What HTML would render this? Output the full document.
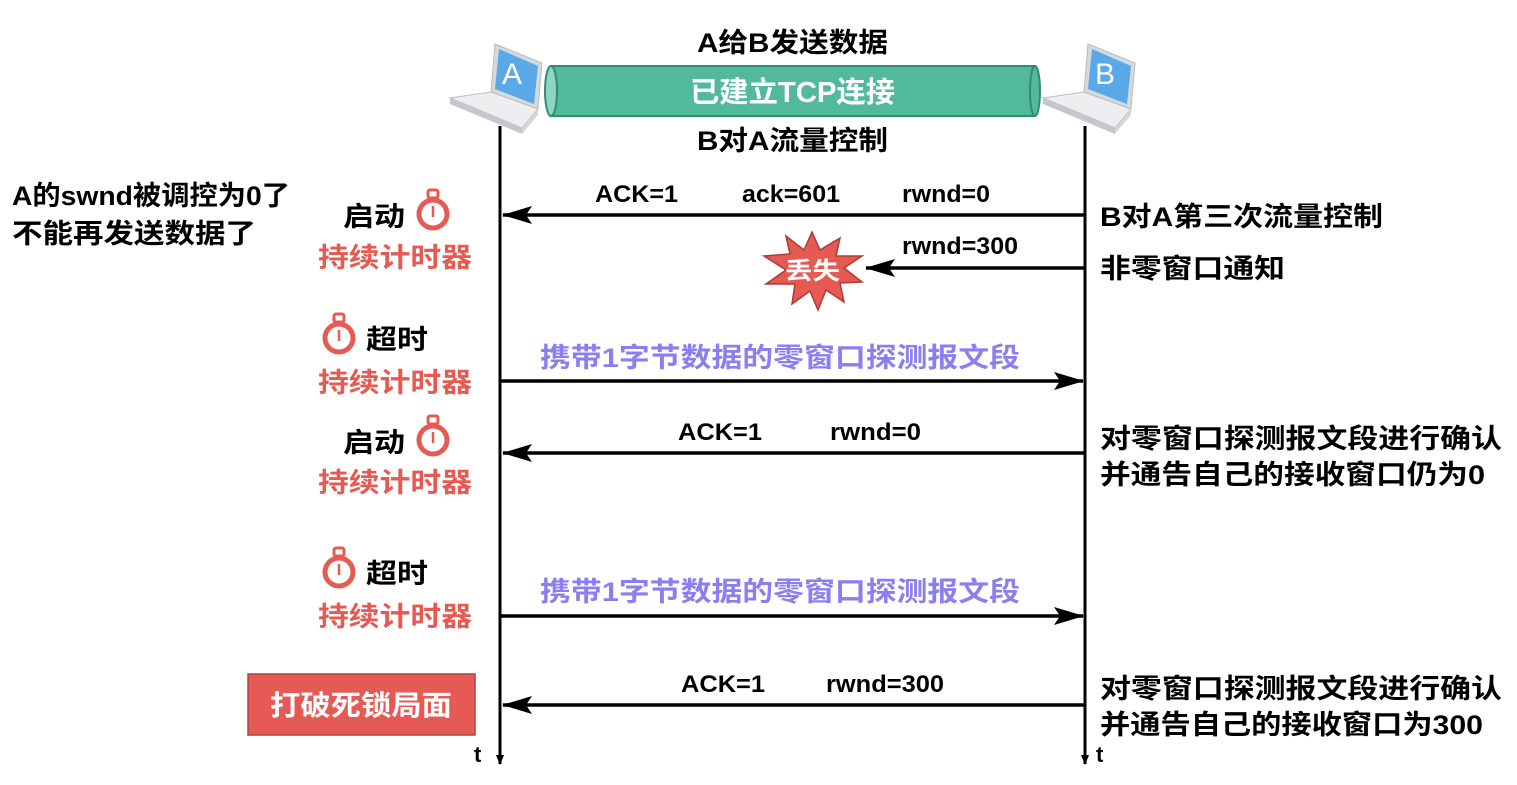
<!DOCTYPE html>
<html><head><meta charset="utf-8"><style>
html,body{margin:0;padding:0;background:#fff;}
svg text{font-family:"Liberation Sans","Noto Sans CJK SC",sans-serif;font-weight:bold;}
</style></head><body>
<svg width="1517" height="780" viewBox="0 0 1517 780" xmlns="http://www.w3.org/2000/svg">
<defs>
<marker id="ah" markerWidth="10" markerHeight="8" refX="9" refY="4" orient="auto" markerUnits="userSpaceOnUse"><path d="M0,0 L10,4 L0,8 Z" fill="#000"/></marker>
<marker id="ab" markerWidth="30" markerHeight="18" refX="29" refY="9" orient="auto" markerUnits="userSpaceOnUse"><path d="M0,0 L30,9 L0,18 L6,9 Z" fill="#000"/></marker>
<g id="sw"><rect x="-5" y="-24" width="10" height="8" rx="2" fill="none" stroke="#e55a52" stroke-width="3"/><circle cx="0" cy="0" r="14" fill="#fff" stroke="#e55a52" stroke-width="5"/><line x1="0" y1="-8" x2="0" y2="3" stroke="#e55a52" stroke-width="2.5"/></g>
<g id="lap">
<polygon points="45,8 92,27 88,73 41,56" fill="#d6d9dc" stroke="#b8bcc0" stroke-width="1"/>
<polygon points="49,13 88,30 84,68 45,53" fill="#5aa8e8"/>
<polygon points="41,56 88,73 72,92 0,62" fill="#eceef0" stroke="#b8bcc0" stroke-width="1"/>
<polygon points="0,62 72,92 72,98 0,68" fill="#c4c8cc"/>
<polygon points="72,92 88,73 88,79 72,98" fill="#d4d6d8"/>
</g>
</defs>

<use href="#lap" x="450" y="36"/>
<text x="512" y="84" font-size="30" fill="#fff" text-anchor="middle" style="font-weight:normal">A</text>
<use href="#lap" x="1043" y="36"/>
<text x="1105" y="84" font-size="30" fill="#fff" text-anchor="middle" style="font-weight:normal">B</text>

<rect x="551" y="66" width="484" height="50" fill="#52b99a" stroke="#2f8c70" stroke-width="2"/>
<ellipse cx="1035" cy="91" rx="5" ry="25" fill="#52b99a" stroke="#2f8c70" stroke-width="2"/>
<ellipse cx="551" cy="91" rx="6" ry="25" fill="#8ed6c0" stroke="#2f8c70" stroke-width="2"/>
<text x="690" y="102" font-size="29" fill="#fff" textLength="205" lengthAdjust="spacingAndGlyphs">已建立TCP连接</text>
<text x="697" y="52" font-size="27" textLength="191" lengthAdjust="spacingAndGlyphs">A给B发送数据</text>
<text x="697" y="150" font-size="27" textLength="191" lengthAdjust="spacingAndGlyphs">B对A流量控制</text>

<line x1="500" y1="126" x2="500" y2="764" stroke="#000" stroke-width="3" marker-end="url(#ah)"/>
<line x1="1085" y1="126" x2="1085" y2="764" stroke="#000" stroke-width="3" marker-end="url(#ah)"/>
<text x="474" y="762" font-size="22">t</text>
<text x="1096" y="762" font-size="22">t</text>

<line x1="1085" y1="215" x2="503" y2="215" stroke="#000" stroke-width="3.5" marker-end="url(#ab)"/>
<line x1="1085" y1="268" x2="866" y2="268" stroke="#000" stroke-width="3.5" marker-end="url(#ab)"/>
<line x1="500" y1="381" x2="1083" y2="381" stroke="#000" stroke-width="3.5" marker-end="url(#ab)"/>
<line x1="1085" y1="453" x2="503" y2="453" stroke="#000" stroke-width="3.5" marker-end="url(#ab)"/>
<line x1="500" y1="616" x2="1083" y2="616" stroke="#000" stroke-width="3.5" marker-end="url(#ab)"/>
<line x1="1085" y1="705" x2="503" y2="705" stroke="#000" stroke-width="3.5" marker-end="url(#ab)"/>

<polygon points="812,232 820,250 840,238 836,256 862,256 844,268 862,282 840,283 844,302 826,290 818,310 810,291 792,304 795,284 766,284 786,270 764,256 790,254 786,236 804,250" fill="#e55a52" stroke="#b03a34" stroke-width="1.5"/>
<text x="785" y="279" font-size="24" fill="#fff" textLength="55" lengthAdjust="spacingAndGlyphs">丢失</text>

<g font-size="24">
<text x="595" y="202" textLength="83" lengthAdjust="spacingAndGlyphs">ACK=1</text>
<text x="742" y="202" textLength="98" lengthAdjust="spacingAndGlyphs">ack=601</text>
<text x="902" y="202" textLength="88" lengthAdjust="spacingAndGlyphs">rwnd=0</text>
<text x="902" y="254" textLength="116" lengthAdjust="spacingAndGlyphs">rwnd=300</text>
<text x="678" y="440" textLength="84" lengthAdjust="spacingAndGlyphs">ACK=1</text>
<text x="830" y="440" textLength="91" lengthAdjust="spacingAndGlyphs">rwnd=0</text>
<text x="681" y="692" textLength="84" lengthAdjust="spacingAndGlyphs">ACK=1</text>
<text x="826" y="692" textLength="118" lengthAdjust="spacingAndGlyphs">rwnd=300</text>
</g>
<text x="540" y="367" font-size="27" fill="#8a7ff0" textLength="480" lengthAdjust="spacingAndGlyphs">携带1字节数据的零窗口探测报文段</text>
<text x="540" y="601" font-size="27" fill="#8a7ff0" textLength="480" lengthAdjust="spacingAndGlyphs">携带1字节数据的零窗口探测报文段</text>

<g font-size="27">
<text x="1100" y="226" textLength="283" lengthAdjust="spacingAndGlyphs">B对A第三次流量控制</text>
<text x="1100" y="278" textLength="185" lengthAdjust="spacingAndGlyphs">非零窗口通知</text>
<text x="1100" y="448" textLength="402" lengthAdjust="spacingAndGlyphs">对零窗口探测报文段进行确认</text>
<text x="1100" y="484" textLength="385" lengthAdjust="spacingAndGlyphs">并通告自己的接收窗口仍为0</text>
<text x="1100" y="698" textLength="402" lengthAdjust="spacingAndGlyphs">对零窗口探测报文段进行确认</text>
<text x="1100" y="734" textLength="383" lengthAdjust="spacingAndGlyphs">并通告自己的接收窗口为300</text>

<text x="12" y="205" textLength="278" lengthAdjust="spacingAndGlyphs">A的swnd被调控为0了</text>
<text x="12" y="243" textLength="244" lengthAdjust="spacingAndGlyphs">不能再发送数据了</text>

<text x="343" y="226" textLength="62" lengthAdjust="spacingAndGlyphs">启动</text>
<text x="318" y="267" fill="#e55a52" textLength="154" lengthAdjust="spacingAndGlyphs">持续计时器</text>
<text x="366" y="349" textLength="62" lengthAdjust="spacingAndGlyphs">超时</text>
<text x="318" y="392" fill="#e55a52" textLength="154" lengthAdjust="spacingAndGlyphs">持续计时器</text>
<text x="343" y="452" textLength="62" lengthAdjust="spacingAndGlyphs">启动</text>
<text x="318" y="492" fill="#e55a52" textLength="154" lengthAdjust="spacingAndGlyphs">持续计时器</text>
<text x="366" y="583" textLength="62" lengthAdjust="spacingAndGlyphs">超时</text>
<text x="318" y="626" fill="#e55a52" textLength="154" lengthAdjust="spacingAndGlyphs">持续计时器</text>
</g>
<use href="#sw" x="433" y="214"/>
<use href="#sw" x="339" y="338"/>
<use href="#sw" x="433" y="440"/>
<use href="#sw" x="339" y="572"/>

<rect x="248" y="674" width="227" height="61" fill="#e55a55" stroke="#b04440" stroke-width="1.5"/>
<text x="270" y="715" font-size="28" fill="#fff" textLength="182" lengthAdjust="spacingAndGlyphs">打破死锁局面</text>
</svg>
</body></html>
